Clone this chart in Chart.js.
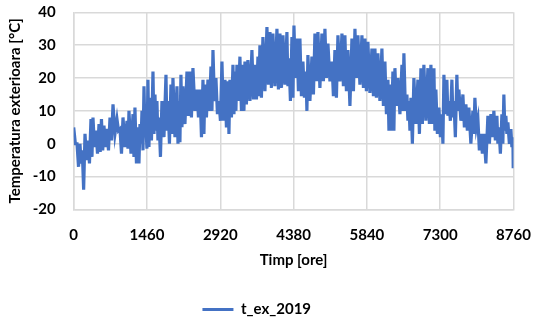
<!DOCTYPE html>
<html>
<head>
<meta charset="utf-8">
<script src="https://cdn.jsdelivr.net/npm/chart.js@4.4.1/dist/chart.umd.min.js"></script>
<style>
  html, body { margin: 0; padding: 0; background: #fff; }
  #wrap { width: 534px; height: 322px; }
</style>
</head>
<body>
<div id="wrap"><canvas id="chart"></canvas></div>
<script>
// Outdoor temperature over the year 2019 (hour of year -> degrees C)

const hours = [
  0, 33, 66, 96, 125, 148, 171, 198, 225, 255, 285, 314, 344, 364, 384, 414, 444, 474, 504, 528,
  553, 578, 603, 633, 663, 693, 723, 753, 783, 822, 862, 892, 922, 952, 982, 1021, 1061, 1081, 1101, 1141,
  1181, 1200, 1220, 1250, 1280, 1300, 1320, 1340, 1360, 1380, 1400, 1420, 1439, 1459, 1479, 1499, 1519, 1549, 1579, 1599,
  1619, 1638, 1658, 1678, 1698, 1728, 1758, 1798, 1838, 1857, 1877, 1907, 1937, 1957, 1977, 2017, 2057, 2077, 2097, 2116,
  2136, 2156, 2176, 2216, 2256, 2286, 2316, 2345, 2375, 2415, 2455, 2485, 2515, 2545, 2575, 2594, 2614, 2644, 2674, 2704,
  2734, 2754, 2774, 2803, 2833, 2863, 2893, 2923, 2953, 2983, 3013, 3042, 3072, 3092, 3112, 3142, 3172, 3192, 3212, 3231,
  3251, 3281, 3311, 3341, 3371, 3391, 3411, 3440, 3470, 3510, 3550, 3580, 3610, 3640, 3670, 3689, 3709, 3739, 3769, 3809,
  3849, 3879, 3909, 3938, 3968, 4008, 4048, 4078, 4108, 4138, 4168, 4207, 4247, 4267, 4287, 4317, 4347, 4367, 4387, 4416,
  4446, 4476, 4506, 4536, 4566, 4596, 4626, 4645, 4665, 4705, 4745, 4775, 4805, 4835, 4865, 4904, 4944, 4974, 5004, 5034,
  5064, 5104, 5144, 5173, 5203, 5233, 5263, 5303, 5343, 5372, 5402, 5432, 5462, 5502, 5542, 5572, 5602, 5631, 5661, 5701,
  5741, 5771, 5801, 5830, 5860, 5900, 5940, 5970, 6000, 6029, 6059, 6099, 6139, 6169, 6199, 6229, 6259, 6279, 6299, 6328,
  6358, 6378, 6398, 6428, 6458, 6498, 6538, 6557, 6577, 6607, 6637, 6657, 6677, 6697, 6717, 6746, 6776, 6816, 6856, 6886,
  6916, 6945, 6975, 7015, 7055, 7085, 7115, 7145, 7175, 7194, 7214, 7244, 7274, 7304, 7334, 7354, 7374, 7403, 7433, 7453,
  7473, 7503, 7533, 7553, 7573, 7602, 7632, 7652, 7672, 7712, 7752, 7782, 7812, 7841, 7871, 7911, 7951, 7971, 7991, 8021,
  8051, 8080, 8110, 8140, 8170, 8210, 8250, 8280, 8310, 8339, 8369, 8399, 8429, 8449, 8469, 8499, 8529, 8548, 8568, 8588,
  8608, 8628, 8648, 8678, 8708, 8728, 8748, 8754, 8760
];

const tEx2019 = [
  5, 0, 0, -7, 0, -6, -2, -14, 3, -5, 1, -6, 7.5, -4, 8, -1, 4, -3, 6, -2.5,
  7.5, -2, 5.5, -1, 4.5, -2, 8, 1, 12, 3, 7.5, 4, 4.5, -3, 8, -1, 7, -1.5, 10, -3,
  9, -4, 11, -6, 5, -6, 6, 0, 10, -2, 17.5, 3, 5, -1.5, 19.5, -1, 14, 1, 22, 3,
  15, 4, 13, 1, 8, -4, 13, 2, 21, 4, 13, 0, 18, 3, 20, 2, 17.5, 0, 13, 0.5,
  21, 5, 17.5, 6, 22, 8.5, 22, 8, 23, 10, 16.5, 8, 16.5, 2, 19.5, 3, 18, 8, 19.5, 10,
  23.5, 10, 28.5, 13, 20, 9, 13, 7, 25, 7, 19.5, 5, 19, 3, 19.5, 8, 24, 9, 22, 10,
  24, 13, 26.5, 10, 24, 10, 25, 12, 25.5, 13, 28.5, 13.5, 24, 13.5, 26.5, 14.5, 30, 14, 32.5, 16,
  35.5, 18, 34, 17, 33.5, 17.5, 35, 16.5, 33.5, 17, 33, 18, 34, 17.5, 26, 13, 32.5, 14, 36, 20,
  32, 16, 32, 14.5, 25, 14, 22, 10, 27, 13, 26.5, 15, 33.5, 19, 34, 17, 33.5, 19, 35, 20,
  30.5, 19, 25, 14.5, 28.5, 14, 33, 19, 33.5, 17.5, 33, 16, 28.5, 11.5, 32, 16, 35, 20, 33, 18,
  33, 17, 32, 16, 31, 15.5, 29, 14.5, 29, 14, 27.5, 13, 29, 11.5, 25, 9, 19.5, 4, 18, 4,
  22, 4, 23, 11.5, 20, 9, 24, 10, 27.5, 10, 15, 7, 13, 4, 14, 0, 20, 6, 19.5, 3,
  23, 6, 24, 7, 23, 6, 24, 6, 23, 4, 16.5, 3, 11, 2, 9, 0, 21, 9, 19.5, 8.5,
  13, 7, 19.5, 8, 13, 2, 21, 10, 16.5, 7, 15, 5, 12, 4, 11, 0, 10, 3, 14, 5,
  7.5, -2, 3, -3, 3, -6, 8.5, 0, 9, 2, 10, 1, 8.5, 0, 5, -3, 9, 0, 15, 4,
  8.5, 3, 6.5, 0, 4.5, -1, 2, -7, -2
];

const seriesName = 't_ex_2019';
const xTitle = 'Timp [ore]';
const yTitle = 'Temperatura exterioara [°C]';

const points = hours.map((h, i) => ({ x: h, y: tEx2019[i] }));

const gridColor = '#d9d9d9';
const boldFont = { family: 'Lato', size: 15, weight: 'bold' };

new Chart(document.getElementById('chart'), {
  type: 'line',
  data: {
    datasets: [{
      label: seriesName,
      data: points,
      borderColor: '#4472c4',
      backgroundColor: '#4472c4',
      borderWidth: 3.2,
      pointRadius: 0,
      tension: 0,
      pointStyle: 'line'
    }]
  },
  options: {
    responsive: true,
    maintainAspectRatio: false,
    animation: false,
    layout: { padding: { top: 12.3, right: 20.5, bottom: -5, left: 0 } },
    plugins: {
      tooltip: { enabled: false },
      legend: {
        position: 'bottom',
        labels: {
          usePointStyle: true,
          pointStyleWidth: 31,
          color: '#000',
          font: boldFont,
          padding: 1
        }
      }
    },
    scales: {
      x: {
        type: 'linear',
        min: 0,
        max: 8760,
        ticks: {
          stepSize: 1460, color: '#000', font: boldFont, padding: 16.5, maxRotation: 0,
          callback: (v) => String(v)
        },
        grid: { color: gridColor, lineWidth: 1.5, drawTicks: false },
        border: { color: gridColor, width: 1.5 },
        title: { display: true, text: xTitle, color: '#000', font: boldFont, padding: { top: 4, bottom: 32 } },
        afterFit: (scale) => {
          // tick padding would otherwise shrink the plot sideways
          scale.height = 91.5;
          scale.paddingLeft = 0;
          scale.paddingRight = 0;
        }
      },
      y: {
        min: -20,
        max: 40,
        ticks: { stepSize: 10, color: '#000', font: boldFont, padding: 18, callback: (v) => String(v) },
        grid: { color: gridColor, lineWidth: 1.5, drawTicks: false },
        border: { color: gridColor, width: 1.5 },
        title: { display: true, text: yTitle, color: '#000', font: boldFont, padding: { top: 6, bottom: 0 } },
        afterFit: (scale) => {
          scale.width = 73.7;
          scale.paddingTop = 0;
          scale.paddingBottom = 0;
        }
      }
    }
  }
});
</script>
</body>
</html>
